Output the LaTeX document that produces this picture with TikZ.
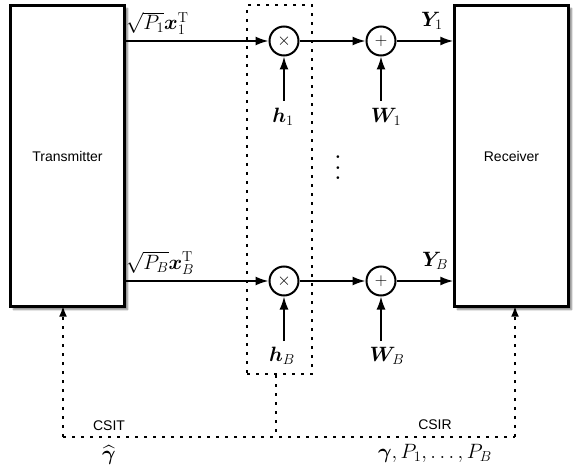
\documentclass[tikz,border=0pt]{standalone}
\usepackage{fontspec}
\usepackage{amsmath,bm}
\usepackage{graphicx}
\setsansfont{Liberation Sans}
\usetikzlibrary{arrows.meta,shadows.blur}
\begin{document}
\begin{tikzpicture}[x=1pt,y=-1pt,
  blk/.style={draw,line width=2.4pt,fill=white,minimum width=114pt,minimum height=301pt,
     font=\sffamily\fontsize{14}{16}\selectfont,
     blur shadow={shadow xshift=3pt,shadow yshift=-3pt,shadow blur steps=6,shadow blur extra rounding=0pt,shadow opacity=50}},
  opnode/.style={draw,circle,line width=2pt,minimum size=29pt,inner sep=0pt,fill=white,
     font=\fontsize{17.28}{20}\selectfont},
  arr/.style={line width=1.8pt,-{Latex[length=13pt,width=9pt]}},
  dotline/.style={line width=2.2pt,dash pattern=on 3pt off 6pt},
  darr/.style={dotline,-{Latex[length=11pt,width=8pt]}},
  mlab/.style={font=\fontsize{20.74}{24}\selectfont,inner sep=1pt},
  slab/.style={font=\sffamily\fontsize{14}{16}\selectfont,inner sep=1pt},
]
\useasboundingbox (0,0) rectangle (581,465);
% dotted box
\node[dotline,draw,minimum width=65pt,minimum height=369pt,inner sep=0pt] (dbox) at (279.5,189.5) {};
% blocks
\node[blk] (tx) at (67.5,156) {Transmitter};
\node[blk] (rx) at (511.5,156) {Receiver};
% operators
\node[opnode] (m1) at (284,41) {$\times$};
\node[opnode] (mB) at (284,281) {$\times$};
\node[opnode] (a1) at (381,41) {$+$};
\node[opnode] (aB) at (381,281) {$+$};
% labels
\node[mlab,inner sep=0pt,anchor=south west] (x1) at (126,35) {$\sqrt{P_1}\bm{x}_1^{\mathrm{T}}$};
\node[mlab,inner sep=0pt,anchor=south west] (xB) at (126,275) {$\sqrt{P_B}\bm{x}_B^{\mathrm{T}}$};
\node[mlab] (h1) at (283,117) {$\bm{h}_1$};
\node[mlab] (hB) at (282,356) {$\bm{h}_B$};
\node[mlab] (W1) at (386,117) {$\bm{W}_1$};
\node[mlab] (WB) at (387,356) {$\bm{W}_B$};
\node[mlab] (Y1) at (432,21) {$\bm{Y}_1$};
\node[mlab] (YB) at (435,261) {$\bm{Y}_B$};
\node[inner sep=0pt] (vd) at (338,160) {\scalebox{2.6}{$\vdots$}};
% forward arrows
\draw[arr] (m1 -| tx.east) -- (m1.west);
\draw[arr] (m1.east) -- (a1.west);
\draw[arr] (a1.east) -- (a1 -| rx.west);
\draw[arr] (mB -| tx.east) -- (mB.west);
\draw[arr] (mB.east) -- (aB.west);
\draw[arr] (aB.east) -- (aB -| rx.west);
\draw[arr] (m1 |- 0,101) -- (m1.south);
\draw[arr] (mB |- 0,341) -- (mB.south);
\draw[arr] (a1 |- 0,101) -- (a1.south);
\draw[arr] (aB |- 0,341) -- (aB.south);
% feedback
\coordinate (csit) at (63,437);
\coordinate (csir) at (515,437);
\coordinate (jn) at (276,437);
\draw[dotline] (csit) -- (csir);
\draw[dotline] (dbox.south -| jn) -- (jn);
\draw[darr] (csit) -- ([yshift=2pt]csit |- tx.south);
\draw[darr] (csir) -- ([yshift=2pt]csir |- rx.south);
\node[slab] (lcsit) at (109,426) {CSIT};
\node[slab] (lcsir) at (435,425) {CSIR};
\node[mlab] (gh) at (109,455) {$\widehat{\bm{\gamma}}$};
\node[mlab] (gl) at (435,453) {$\bm{\gamma}, P_1, \ldots, P_B$};
\end{tikzpicture}
\end{document}
